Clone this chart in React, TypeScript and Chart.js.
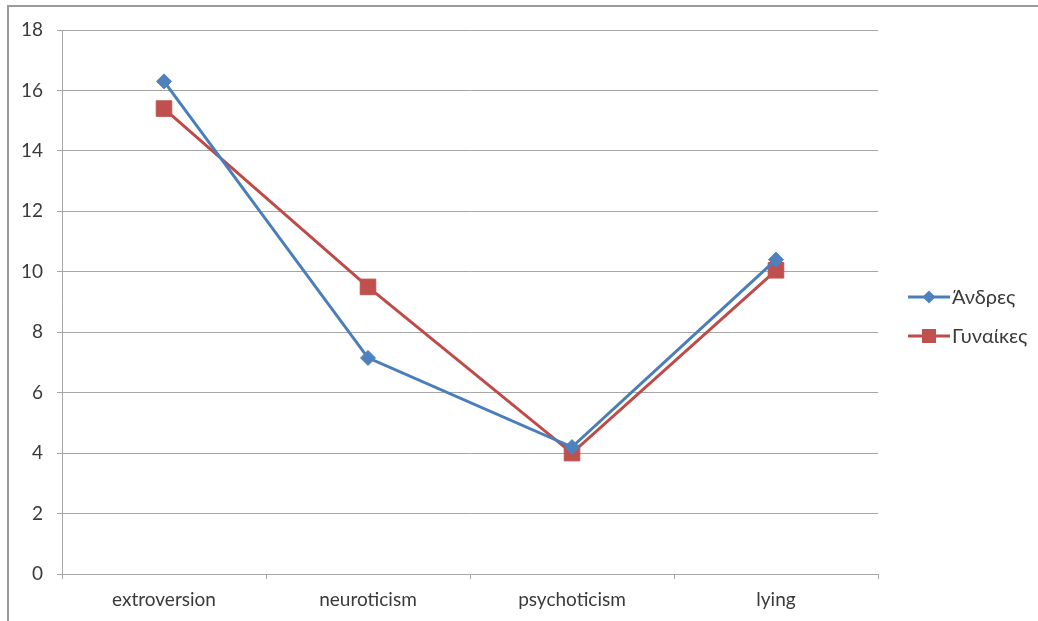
import React, { useEffect, useRef } from 'react';
import { Chart, registerables } from 'chart.js';

Chart.register(...registerables);

const categories = ['extroversion', 'neuroticism', 'psychoticism', 'lying'];
const andres = [16.3, 7.15, 4.2, 10.4];
const gynaikes = [15.4, 9.5, 4.0, 10.05];
const seriesNames = ['Άνδρες', 'Γυναίκες'];
const yMin = 0;
const yMax = 18;
const yStep = 2;

const FONT = "Lato, 'Open Sans', 'DejaVu Sans', sans-serif";
const TEXT = '#3a3a3a';
const GRID = '#a6a6a6';

// Excel-style legend: a short line with the series marker in its middle
const sideLegend = {
  id: 'sideLegend',
  afterDraw(chart: any) {
    const { ctx, chartArea } = chart;
    const x0 = chartArea.right + 30;
    const y0 = chartArea.top + 267;
    ctx.save();
    chart.data.datasets.forEach((ds: any, i: number) => {
      const y = y0 + i * 39;
      ctx.strokeStyle = ds.borderColor;
      ctx.lineWidth = 3;
      ctx.beginPath();
      ctx.moveTo(x0, y);
      ctx.lineTo(x0 + 42, y);
      ctx.stroke();
      const cx = x0 + 21;
      ctx.fillStyle = ds.pointBackgroundColor;
      ctx.beginPath();
      if (ds.pointStyle === 'rectRot') {
        const r = 6.5;
        ctx.moveTo(cx, y - r);
        ctx.lineTo(cx + r, y);
        ctx.lineTo(cx, y + r);
        ctx.lineTo(cx - r, y);
        ctx.closePath();
      } else {
        ctx.rect(cx - 7, y - 7, 14, 14);
      }
      ctx.fill();
      ctx.fillStyle = TEXT;
      ctx.font = `20px ${FONT}`;
      ctx.textBaseline = 'middle';
      ctx.textAlign = 'left';
      ctx.fillText(ds.label, x0 + 44, y + 1);
    });
    ctx.restore();
  },
};

export default function App() {
  const canvasRef = useRef<HTMLCanvasElement>(null);

  useEffect(() => {
    if (!canvasRef.current) return;
    const chart = new Chart(canvasRef.current, {
      type: 'line',
      data: {
        labels: categories,
        datasets: [
          {
            label: seriesNames[0],
            data: andres,
            borderColor: '#4a7ebb',
            backgroundColor: '#4f81bd',
            pointBackgroundColor: '#4f81bd',
            pointBorderColor: '#4f81bd',
            pointStyle: 'rectRot',
            pointRadius: 7.5,
            pointBorderWidth: 1,
            borderWidth: 3,
            tension: 0,
          },
          {
            label: seriesNames[1],
            data: gynaikes,
            borderColor: '#be4b48',
            backgroundColor: '#c0504d',
            pointBackgroundColor: '#c0504d',
            pointBorderColor: '#c0504d',
            pointStyle: 'rect',
            pointRadius: 11,
            pointBorderWidth: 1,
            borderWidth: 3,
            tension: 0,
          },
        ],
      },
      options: {
        responsive: false,
        animation: false,
        layout: { padding: { left: 0, top: 30, right: 160, bottom: 0 } },
        plugins: {
          legend: { display: false },
          tooltip: { enabled: false },
        },
        scales: {
          x: {
            offset: true,
            afterFit: (s: any) => {
              s.height = 47;
            },
            grid: {
              offset: true,
              drawOnChartArea: false,
              drawTicks: true,
              tickLength: 5,
              color: GRID,
              lineWidth: 1,
            },
            border: { display: true, color: GRID, width: 1 },
            ticks: {
              color: TEXT,
              font: { family: FONT, size: 19 },
              padding: 9,
              maxRotation: 0,
            },
          },
          y: {
            min: yMin,
            max: yMax,
            afterFit: (s: any) => {
              s.width = 62;
            },
            grid: {
              drawOnChartArea: true,
              drawTicks: true,
              tickLength: 5,
              color: GRID,
              lineWidth: 1,
            },
            border: { display: true, color: GRID, width: 1 },
            ticks: {
              stepSize: yStep,
              color: TEXT,
              font: { family: FONT, size: 19 },
              padding: 14,
            },
          },
        },
      },
      plugins: [sideLegend],
    });
    return () => chart.destroy();
  }, []);

  return (
    <div style={{ position: 'fixed', left: 0, top: 0, width: 1038, height: 621, background: '#fff' }}>
      <div
        style={{
          position: 'absolute',
          left: 7,
          top: 5,
          right: 0,
          bottom: 0,
          borderLeft: '2px solid #9a9a9a',
          borderTop: '2px solid #9a9a9a',
        }}
      />
      <canvas ref={canvasRef} width={1038} height={621} style={{ position: 'absolute', left: 0, top: 0 }} />
    </div>
  );
}
